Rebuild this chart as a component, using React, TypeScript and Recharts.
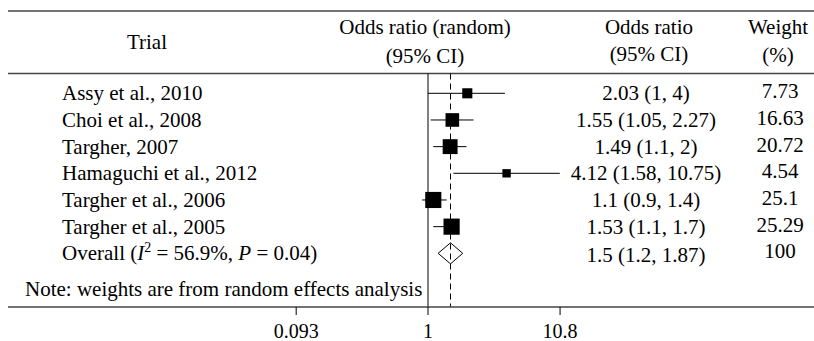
import React from "react";
import {
  ComposedChart,
  Scatter,
  XAxis,
  YAxis,
  ReferenceLine,
} from "recharts";

// study rows
const trials = [
  "Assy et al., 2010",
  "Choi et al., 2008",
  "Targher, 2007",
  "Hamaguchi et al., 2012",
  "Targher et al., 2006",
  "Targher et al., 2005",
];
const oddsRatio = [2.03, 1.55, 1.49, 4.12, 1.1, 1.53];
const ciLow = [1, 1.05, 1.1, 1.58, 0.9, 1.1];
const ciHigh = [4, 2.27, 2, 10.75, 1.4, 1.7];
const weights = [7.73, 16.63, 20.72, 4.54, 25.1, 25.29];
const orLabels = [
  "2.03 (1, 4)",
  "1.55 (1.05, 2.27)",
  "1.49 (1.1, 2)",
  "4.12 (1.58, 10.75)",
  "1.1 (0.9, 1.4)",
  "1.53 (1.1, 1.7)",
];
const weightLabels = ["7.73", "16.63", "20.72", "4.54", "25.1", "25.29"];

// pooled estimate
const overallOR = 1.5;
const overallLow = 1.2;
const overallHigh = 1.87;
const overallLabel = "1.5 (1.2, 1.87)";
const overallWeight = "100";
const overallI2 = "56.9%";
const overallP = "0.04";

const xTicks = [0.093, 1, 10.8];
const note = "Note: weights are from random effects analysis";

// layout
const W = 814;
const H = 341;
const LEFT = 8;
const TOP = 11;
const BOTTOM = 307;
const ROW_PX = 26.67;
const FIRST_ROW_PX = 93.3;
const ONE_PX = 428; // pixel of OR = 1
const PX_PER_DECADE = 127.8;
const X_MIN = Math.pow(10, (LEFT - ONE_PX) / PX_PER_DECADE);
const X_MAX = Math.pow(10, (W - ONE_PX) / PX_PER_DECADE);
const Y_TOP = (TOP - FIRST_ROW_PX) / ROW_PX;
const Y_BOT = (BOTTOM - FIRST_ROW_PX) / ROW_PX;
const rowAt = (px: number) => (px - FIRST_ROW_PX) / ROW_PX;
const HEADER_RULE = rowAt(73.5);
const OVERALL_ROW = trials.length;

const FONT = "'Liberation Serif', 'Times New Roman', serif";
const FS = 21;
const RULE = "#444";

const textShape = (x: number, anchor: string, dy: number) => (p: any) => (
  <text
    x={x}
    y={p.cy + dy}
    textAnchor={anchor}
    fontFamily={FONT}
    fontSize={FS}
    fill="#000"
  >
    {p.payload.t}
  </text>
);

const squareShape = (p: any) => {
  const s = 2.6 + 2.7 * Math.sqrt(p.payload.w);
  return <rect x={p.cx - s / 2} y={p.cy - s / 2} width={s} height={s} fill="#000" />;
};

const overallShape = (p: any) => (
  <text x={62} y={p.cy + 7} fontFamily={FONT} fontSize={FS} fill="#000">
    Overall (<tspan fontStyle="italic">I</tspan>
    <tspan dy={-8} fontSize={14}>2</tspan>
    <tspan dy={8}>{" = " + overallI2 + ", "}</tspan>
    <tspan fontStyle="italic">P</tspan>
    {" = " + overallP + ")"}
  </text>
);

export default function App() {
  const col = (labels: string[]) => labels.map((t, i) => ({ x: 1, y: i, t }));
  const squares = oddsRatio.map((x, i) => ({ x, y: i, w: weights[i] }));
  const dh = 10.5 / ROW_PX;
  const headerA = [
    { x: 1, y: rowAt(26.7), t: "Odds ratio (random)" },
    { x: 1, y: rowAt(55.5), t: "(95% CI)" },
  ];
  const headerB = [
    { x: 1, y: rowAt(26.7), t: "Odds ratio" },
    { x: 1, y: rowAt(54), t: "(95% CI)" },
  ];
  const headerC = [
    { x: 1, y: rowAt(26.7), t: "Weight" },
    { x: 1, y: rowAt(55), t: "(%)" },
  ];

  return (
    <div style={{ position: "absolute", left: 0, top: 0, background: "#fff" }}>
      <ComposedChart
        width={W}
        height={H}
        margin={{ top: TOP, right: 0, bottom: 0, left: LEFT }}
      >
        <XAxis
          dataKey="x"
          type="number"
          scale="log"
          domain={[X_MIN, X_MAX]}
          allowDataOverflow
          ticks={xTicks}
          interval={0}
          tickFormatter={(v) => String(v)}
          height={H - BOTTOM}
          tickSize={8}
          tickMargin={9}
          axisLine={{ stroke: RULE, strokeWidth: 1.6 }}
          tickLine={{ stroke: "#000" }}
          tick={{ fill: "#000", fontSize: 20, fontFamily: FONT }}
        />
        <YAxis
          dataKey="y"
          type="number"
          hide
          reversed
          domain={[Y_TOP, Y_BOT]}
          allowDataOverflow
        />

        <ReferenceLine y={Y_TOP} stroke={RULE} strokeWidth={1.6} />
        <ReferenceLine y={HEADER_RULE} stroke={RULE} strokeWidth={1.6} />

        <ReferenceLine
          segment={[{ x: 1, y: HEADER_RULE }, { x: 1, y: Y_BOT }]}
          stroke="#000"
          strokeWidth={1}
        />
        <ReferenceLine
          segment={[{ x: overallOR, y: HEADER_RULE }, { x: overallOR, y: Y_BOT }]}
          stroke="#000"
          strokeWidth={1}
          strokeDasharray="6 4"
        />

        {oddsRatio.map((_, i) => (
          <ReferenceLine
            key={i}
            segment={[{ x: ciLow[i], y: i }, { x: ciHigh[i], y: i }]}
            stroke="#000"
            strokeWidth={1}
          />
        ))}

        <ReferenceLine segment={[{ x: overallLow, y: OVERALL_ROW }, { x: overallOR, y: OVERALL_ROW - dh }]} stroke="#000" />
        <ReferenceLine segment={[{ x: overallOR, y: OVERALL_ROW - dh }, { x: overallHigh, y: OVERALL_ROW }]} stroke="#000" />
        <ReferenceLine segment={[{ x: overallHigh, y: OVERALL_ROW }, { x: overallOR, y: OVERALL_ROW + dh }]} stroke="#000" />
        <ReferenceLine segment={[{ x: overallOR, y: OVERALL_ROW + dh }, { x: overallLow, y: OVERALL_ROW }]} stroke="#000" />

        <Scatter data={squares} shape={squareShape} isAnimationActive={false} />

        <Scatter data={[{ x: 1, y: rowAt(41.7), t: "Trial" }]} shape={textShape(147, "middle", 7)} isAnimationActive={false} />
        <Scatter data={headerA} shape={textShape(425, "middle", 7)} isAnimationActive={false} />
        <Scatter data={headerB} shape={textShape(649, "middle", 7)} isAnimationActive={false} />
        <Scatter data={headerC} shape={textShape(778, "middle", 7)} isAnimationActive={false} />

        <Scatter data={col(trials)} shape={textShape(62, "start", 7)} isAnimationActive={false} />
        <Scatter data={col(orLabels)} shape={textShape(646, "middle", 7)} isAnimationActive={false} />
        <Scatter data={col(weightLabels)} shape={textShape(780, "middle", 5)} isAnimationActive={false} />

        <Scatter data={[{ x: 1, y: OVERALL_ROW }]} shape={overallShape} isAnimationActive={false} />
        <Scatter data={[{ x: 1, y: OVERALL_ROW, t: overallLabel }]} shape={textShape(646, "middle", 8.5)} isAnimationActive={false} />
        <Scatter data={[{ x: 1, y: OVERALL_ROW, t: overallWeight }]} shape={textShape(780, "middle", 4.5)} isAnimationActive={false} />

        <Scatter data={[{ x: 1, y: rowAt(289), t: note }]} shape={textShape(25, "start", 7)} isAnimationActive={false} />
      </ComposedChart>
    </div>
  );
}
